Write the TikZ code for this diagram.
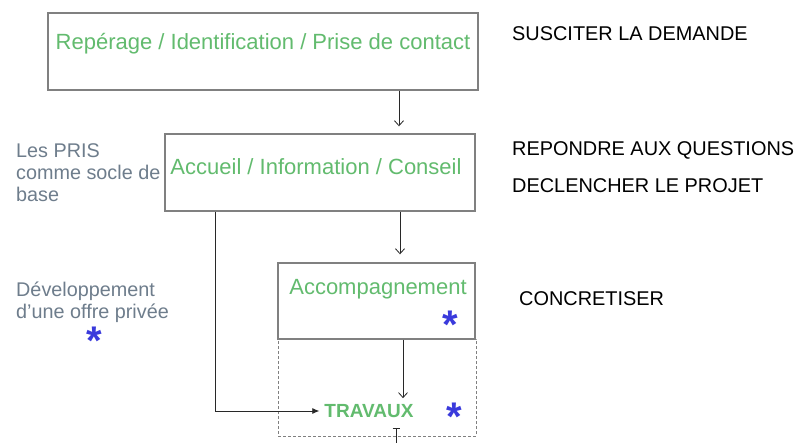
\documentclass[tikz,border=0pt]{standalone}
\usepackage{fontspec}
\setmainfont{Liberation Sans}
\usetikzlibrary{arrows.meta}
\definecolor{boxgreen}{RGB}{98,187,110}
\definecolor{boxgray}{RGB}{128,128,128}
\definecolor{sidegray}{RGB}{110,125,140}
\definecolor{starblue}{RGB}{58,58,220}
\definecolor{linegray}{RGB}{40,40,40}
\tikzset{
  stagebox/.style={draw=boxgray, line width=1.4pt, inner sep=0pt},
  dashbox/.style={draw=boxgray, line width=0.9pt, dash pattern=on 3pt off 2pt, inner sep=0pt},
  greentext/.style={text=boxgreen, inner sep=0pt, font=\fontsize{22}{26}\selectfont},
  sidetext/.style={text=sidegray, inner sep=0pt, align=left, anchor=west, font=\fontsize{19.8}{22}\selectfont},
  righttext/.style={text=black, inner sep=0pt, anchor=west, font=\fontsize{19.9}{22}\selectfont},
  star/.style={text=starblue, inner sep=0pt, anchor=base, font=\fontsize{40}{40}\selectfont\bfseries},
  flow/.style={draw=linegray, line width=0.8pt, -{Straight Barb[length=5pt,width=9pt]}},
}
\begin{document}
\begin{tikzpicture}[x=1pt,y=-1pt]
\useasboundingbox[fill=white] (0,0) rectangle (797,443);
% boxes
\node[stagebox, minimum width=430pt, minimum height=77pt] (b1) at (263,51.5) {};
\node[stagebox, minimum width=310pt, minimum height=77pt] (b2) at (320,172.5) {};
\node[stagebox, minimum width=197pt, minimum height=76pt] (b3) at (376.5,301) {};
\node[dashbox, minimum width=198pt, minimum height=97pt] (b4) at (377,387.5) {};
% box texts
\node[greentext] (t1) at (263,43.5) {Repérage / Identification / Prise de contact};
\node[greentext] (t2) at (316,166.5) {Accueil / Information / Conseil};
\node[greentext] (t3) at (378,289.5) {Accompagnement};
\node[text=boxgreen, inner sep=2pt, font=\fontsize{19}{22}\selectfont\bfseries] (trav) at (369,411) {TRAVAUX};
% stars
\node[star] (s1) at (450,338) {*};
\node[star] (s2) at (454,430) {*};
\node[star] (s3) at (94,354) {*};
% side texts
\node[sidetext] (l1) at (16,173) {Les PRIS\\comme socle de\\base};
\node[sidetext] (l2) at (16,302) {Développement\\d’une offre privée};
\node[righttext] (r1) at (512,34) {SUSCITER LA DEMANDE};
\node[righttext] (r2) at (512,150) {REPONDRE AUX QUESTIONS};
\node[righttext] (r3) at (512,186) {DECLENCHER LE PROJET};
\node[righttext] (r4) at (519,299) {CONCRETISER};
% connectors
\coordinate (c1) at (399,0);
\coordinate (c2) at (400,0);
\coordinate (c3) at (403,0);
\coordinate (c4) at (215,0);
\draw[flow, shorten >=7pt] (b1.south -| c1) -- (b2.north -| c1);
\draw[flow, shorten >=8pt] (b2.south -| c2) -- (b3.north -| c2);
\draw[flow, shorten >=4pt] (b3.south -| c3) -- (c3 |- trav.north);
\draw[draw=linegray, line width=0.8pt, -{Latex[length=7pt,width=6pt]}, shorten >=3pt] (b2.south -| c4) |- (trav.west);
\coordinate (c5) at (396,428);
\coordinate (c6) at (396,443);
\draw[draw=linegray, line width=0.8pt, {Bar[width=7pt]}-] (c5) -- (c6);
\end{tikzpicture}
\end{document}
